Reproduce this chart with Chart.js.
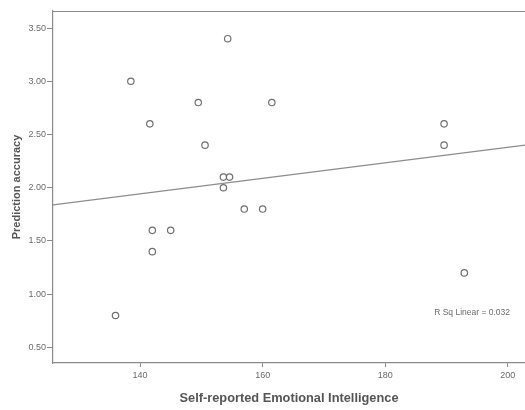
<!DOCTYPE html>
<html>
<head>
<meta charset="utf-8">
<script src="https://cdn.jsdelivr.net/npm/chart.js@4.4.0/dist/chart.umd.min.js"></script>
<style>
  html, body { margin: 0; padding: 0; background: #fff; overflow: hidden; }
  #wrap { width: 525px; height: 410px; position: relative; }
</style>
</head>
<body>
<div id="wrap"><canvas id="c"></canvas></div>
<script>
// Data
const eiScores = [136, 142, 145, 142, 157, 160, 153.6, 154.3, 138.5, 149.5, 161.5, 141.6, 150.6, 153.6, 154.6, 189.6, 189.6, 192.9];
const accuracy = [0.8, 1.6, 1.6, 1.4, 1.8, 1.8, 2.0, 3.4, 3.0, 2.8, 2.8, 2.6, 2.4, 2.1, 2.1, 2.6, 2.4, 1.2];
const fitX = [125.8, 202.8];
const fitY = [1.84, 2.40];
const xTicks = [140, 160, 180, 200];
const yTicks = [0.5, 1.0, 1.5, 2.0, 2.5, 3.0, 3.5];
const xTitle = 'Self-reported Emotional Intelligence';
const yTitle = 'Prediction accuracy';
const rsqLabel = 'R Sq Linear = 0.032';

const axisColor = '#8a8a8a';
const textColor = '#6a6a6a';

const framePlugin = {
  id: 'frame',
  afterDraw(chart) {
    const { ctx, chartArea } = chart;
    ctx.save();
    ctx.strokeStyle = axisColor;
    ctx.lineWidth = 1.2;
    ctx.beginPath();
    ctx.moveTo(chartArea.left, chartArea.top + 0.5);
    ctx.lineTo(chartArea.right, chartArea.top + 0.5);
    ctx.stroke();
    ctx.fillStyle = textColor;
    ctx.font = '8.5px "Liberation Sans", Arial, sans-serif';
    ctx.textAlign = 'right';
    ctx.textBaseline = 'middle';
    ctx.fillText(rsqLabel, chartArea.right - 15, chartArea.top + 302);
    ctx.restore();
  }
};

new Chart(document.getElementById('c'), {
  type: 'scatter',
  data: {
    datasets: [
      {
        label: 'points',
        data: eiScores.map((x, i) => ({ x: x, y: accuracy[i] })),
        pointStyle: 'circle',
        pointRadius: 3.2,
        pointBorderWidth: 1.2,
        pointBorderColor: '#6f6f6f',
        pointBackgroundColor: 'rgba(255,255,255,0)',
        showLine: false
      },
      {
        label: 'fit',
        type: 'line',
        data: fitX.map((x, i) => ({ x: x, y: fitY[i] })),
        borderColor: '#8c8c8c',
        borderWidth: 1.2,
        pointRadius: 0,
        fill: false
      }
    ]
  },
  options: {
    responsive: true,
    maintainAspectRatio: false,
    animation: false,
    events: [],
    layout: { autoPadding: false, padding: { top: 11, right: 0, left: 0, bottom: 0 } },
    plugins: { legend: { display: false }, tooltip: { enabled: false } },
    scales: {
      x: {
        type: 'linear',
        min: 125.8,
        max: 202.8,
        afterFit(s) { s.height = 47; s.paddingRight = 0; s.paddingLeft = 0; },
        afterBuildTicks(s) { s.ticks = xTicks.map(v => ({ value: v })); },
        grid: { drawOnChartArea: false, drawTicks: true, tickLength: 4, color: axisColor, lineWidth: 1 },
        border: { color: axisColor, width: 1.2 },
        ticks: {
          color: textColor,
          font: { size: 9, family: '"Liberation Sans", Arial, sans-serif' },
          padding: 3,
          callback: v => String(v)
        },
        title: {
          display: true,
          text: xTitle,
          color: '#555',
          font: { size: 12.8, weight: 'bold', family: '"Liberation Sans", Arial, sans-serif' },
          padding: { top: 0, bottom: 4 }
        }
      },
      y: {
        type: 'linear',
        min: 0.354,
        max: 3.66,
        afterFit(s) { s.width = 53; s.paddingTop = 0; s.paddingBottom = 0; },
        afterBuildTicks(s) { s.ticks = yTicks.map(v => ({ value: v })); },
        grid: { drawOnChartArea: false, drawTicks: true, tickLength: 6, color: axisColor, lineWidth: 1 },
        border: { color: axisColor, width: 1.2 },
        ticks: {
          color: textColor,
          font: { size: 9, family: '"Liberation Sans", Arial, sans-serif' },
          padding: 1,
          callback: v => Number(v).toFixed(2)
        },
        title: {
          display: true,
          text: yTitle,
          color: '#555',
          font: { size: 11, weight: 'bold', family: '"Liberation Sans", Arial, sans-serif' },
          padding: { top: 10, bottom: 0 }
        }
      }
    }
  },
  plugins: [framePlugin]
});
</script>
</body>
</html>
